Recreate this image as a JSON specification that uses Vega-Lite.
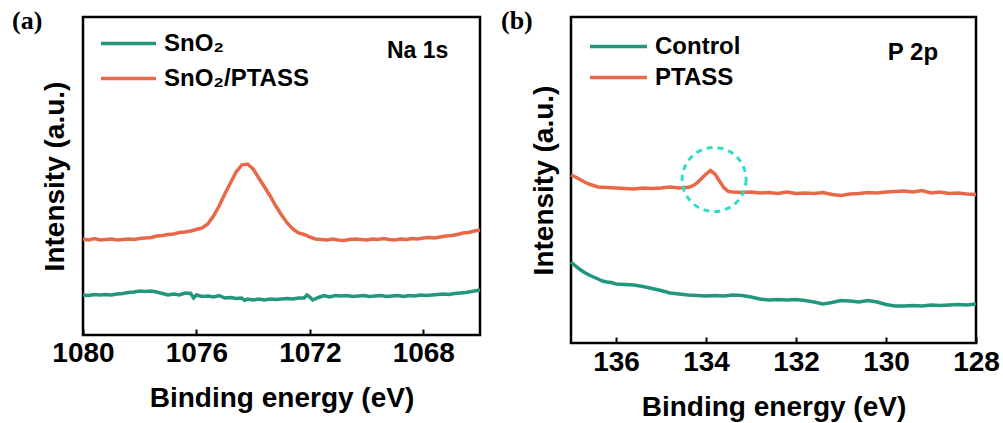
{
  "$schema": "https://vega.github.io/schema/vega-lite/v6.json",
  "background": "white",
  "padding": {"left": 10, "top": 6, "right": 5, "bottom": 5},
  "bounds": "flush",
  "spacing": 91,
  "config": {
    "view": {"stroke": "black", "strokeWidth": 2.5},
    "font": "Liberation Sans",
    "axis": {"labelColor": "black", "titleColor": "black", "tickColor": "black", "domain": false, "grid": false,
             "labelFont": "Liberation Sans", "titleFont": "Liberation Sans", "labelFontWeight": "bold", "titleFontWeight": "bold"},
    "legend": {"labelColor": "black", "labelFont": "Liberation Sans"}
  },
  "resolve": {"scale": {"color": "independent", "x": "independent", "y": "independent"}, "legend": {"color": "independent"}},
  "datasets": {
    "a": [
      {"sample":"SnO₂/PTASS","energy":1080.0,"intensity":96},
      {"sample":"SnO₂/PTASS","energy":1079.8,"intensity":95},
      {"sample":"SnO₂/PTASS","energy":1079.6,"intensity":96.5},
      {"sample":"SnO₂/PTASS","energy":1079.4,"intensity":95},
      {"sample":"SnO₂/PTASS","energy":1079.2,"intensity":95.5},
      {"sample":"SnO₂/PTASS","energy":1079.0,"intensity":96},
      {"sample":"SnO₂/PTASS","energy":1078.8,"intensity":95},
      {"sample":"SnO₂/PTASS","energy":1078.6,"intensity":95.5},
      {"sample":"SnO₂/PTASS","energy":1078.4,"intensity":96},
      {"sample":"SnO₂/PTASS","energy":1078.2,"intensity":95.5},
      {"sample":"SnO₂/PTASS","energy":1078.0,"intensity":96.5},
      {"sample":"SnO₂/PTASS","energy":1077.8,"intensity":97},
      {"sample":"SnO₂/PTASS","energy":1077.6,"intensity":97.5},
      {"sample":"SnO₂/PTASS","energy":1077.4,"intensity":99},
      {"sample":"SnO₂/PTASS","energy":1077.2,"intensity":99.5},
      {"sample":"SnO₂/PTASS","energy":1077.0,"intensity":100.5},
      {"sample":"SnO₂/PTASS","energy":1076.8,"intensity":101},
      {"sample":"SnO₂/PTASS","energy":1076.6,"intensity":102.5},
      {"sample":"SnO₂/PTASS","energy":1076.4,"intensity":103},
      {"sample":"SnO₂/PTASS","energy":1076.2,"intensity":104},
      {"sample":"SnO₂/PTASS","energy":1076.0,"intensity":105.5},
      {"sample":"SnO₂/PTASS","energy":1075.8,"intensity":107},
      {"sample":"SnO₂/PTASS","energy":1075.6,"intensity":111},
      {"sample":"SnO₂/PTASS","energy":1075.4,"intensity":119},
      {"sample":"SnO₂/PTASS","energy":1075.2,"intensity":129},
      {"sample":"SnO₂/PTASS","energy":1075.0,"intensity":141},
      {"sample":"SnO₂/PTASS","energy":1074.8,"intensity":152},
      {"sample":"SnO₂/PTASS","energy":1074.6,"intensity":163},
      {"sample":"SnO₂/PTASS","energy":1074.4,"intensity":170},
      {"sample":"SnO₂/PTASS","energy":1074.2,"intensity":171},
      {"sample":"SnO₂/PTASS","energy":1074.0,"intensity":166},
      {"sample":"SnO₂/PTASS","energy":1073.8,"intensity":157},
      {"sample":"SnO₂/PTASS","energy":1073.6,"intensity":148},
      {"sample":"SnO₂/PTASS","energy":1073.4,"intensity":139},
      {"sample":"SnO₂/PTASS","energy":1073.2,"intensity":129},
      {"sample":"SnO₂/PTASS","energy":1073.0,"intensity":120},
      {"sample":"SnO₂/PTASS","energy":1072.8,"intensity":112},
      {"sample":"SnO₂/PTASS","energy":1072.6,"intensity":106},
      {"sample":"SnO₂/PTASS","energy":1072.4,"intensity":102},
      {"sample":"SnO₂/PTASS","energy":1072.2,"intensity":100.5},
      {"sample":"SnO₂/PTASS","energy":1072.0,"intensity":98},
      {"sample":"SnO₂/PTASS","energy":1071.8,"intensity":96},
      {"sample":"SnO₂/PTASS","energy":1071.6,"intensity":95.5},
      {"sample":"SnO₂/PTASS","energy":1071.4,"intensity":95},
      {"sample":"SnO₂/PTASS","energy":1071.2,"intensity":96},
      {"sample":"SnO₂/PTASS","energy":1071.0,"intensity":95},
      {"sample":"SnO₂/PTASS","energy":1070.8,"intensity":94.5},
      {"sample":"SnO₂/PTASS","energy":1070.6,"intensity":95.5},
      {"sample":"SnO₂/PTASS","energy":1070.4,"intensity":96},
      {"sample":"SnO₂/PTASS","energy":1070.2,"intensity":95.5},
      {"sample":"SnO₂/PTASS","energy":1070.0,"intensity":95},
      {"sample":"SnO₂/PTASS","energy":1069.8,"intensity":96},
      {"sample":"SnO₂/PTASS","energy":1069.6,"intensity":95.5},
      {"sample":"SnO₂/PTASS","energy":1069.4,"intensity":96.5},
      {"sample":"SnO₂/PTASS","energy":1069.2,"intensity":95.5},
      {"sample":"SnO₂/PTASS","energy":1069.0,"intensity":95},
      {"sample":"SnO₂/PTASS","energy":1068.8,"intensity":96},
      {"sample":"SnO₂/PTASS","energy":1068.6,"intensity":95.5},
      {"sample":"SnO₂/PTASS","energy":1068.4,"intensity":96.5},
      {"sample":"SnO₂/PTASS","energy":1068.2,"intensity":96},
      {"sample":"SnO₂/PTASS","energy":1068.0,"intensity":97},
      {"sample":"SnO₂/PTASS","energy":1067.8,"intensity":97.5},
      {"sample":"SnO₂/PTASS","energy":1067.6,"intensity":97},
      {"sample":"SnO₂/PTASS","energy":1067.4,"intensity":98},
      {"sample":"SnO₂/PTASS","energy":1067.2,"intensity":99},
      {"sample":"SnO₂/PTASS","energy":1067.0,"intensity":99.5},
      {"sample":"SnO₂/PTASS","energy":1066.8,"intensity":100.5},
      {"sample":"SnO₂/PTASS","energy":1066.6,"intensity":102},
      {"sample":"SnO₂/PTASS","energy":1066.4,"intensity":102.5},
      {"sample":"SnO₂/PTASS","energy":1066.2,"intensity":104},
      {"sample":"SnO₂/PTASS","energy":1066.0,"intensity":105},
      {"sample":"SnO₂","energy":1080.0,"intensity":40},
      {"sample":"SnO₂","energy":1079.8,"intensity":39.5},
      {"sample":"SnO₂","energy":1079.6,"intensity":40.5},
      {"sample":"SnO₂","energy":1079.4,"intensity":40},
      {"sample":"SnO₂","energy":1079.2,"intensity":40.5},
      {"sample":"SnO₂","energy":1079.0,"intensity":40},
      {"sample":"SnO₂","energy":1078.8,"intensity":41},
      {"sample":"SnO₂","energy":1078.6,"intensity":41.5},
      {"sample":"SnO₂","energy":1078.4,"intensity":42.5},
      {"sample":"SnO₂","energy":1078.2,"intensity":43},
      {"sample":"SnO₂","energy":1078.0,"intensity":44},
      {"sample":"SnO₂","energy":1077.8,"intensity":43.5},
      {"sample":"SnO₂","energy":1077.6,"intensity":44},
      {"sample":"SnO₂","energy":1077.4,"intensity":43},
      {"sample":"SnO₂","energy":1077.2,"intensity":41.5},
      {"sample":"SnO₂","energy":1077.0,"intensity":40},
      {"sample":"SnO₂","energy":1076.8,"intensity":41},
      {"sample":"SnO₂","energy":1076.6,"intensity":40},
      {"sample":"SnO₂","energy":1076.4,"intensity":42},
      {"sample":"SnO₂","energy":1076.2,"intensity":41.5},
      {"sample":"SnO₂","energy":1076.1,"intensity":37},
      {"sample":"SnO₂","energy":1076.0,"intensity":40},
      {"sample":"SnO₂","energy":1075.8,"intensity":38.5},
      {"sample":"SnO₂","energy":1075.6,"intensity":39},
      {"sample":"SnO₂","energy":1075.4,"intensity":38},
      {"sample":"SnO₂","energy":1075.2,"intensity":39.5},
      {"sample":"SnO₂","energy":1075.0,"intensity":37},
      {"sample":"SnO₂","energy":1074.8,"intensity":37.5},
      {"sample":"SnO₂","energy":1074.6,"intensity":36.5},
      {"sample":"SnO₂","energy":1074.4,"intensity":37},
      {"sample":"SnO₂","energy":1074.3,"intensity":34.5},
      {"sample":"SnO₂","energy":1074.2,"intensity":36},
      {"sample":"SnO₂","energy":1074.0,"intensity":35},
      {"sample":"SnO₂","energy":1073.8,"intensity":36},
      {"sample":"SnO₂","energy":1073.6,"intensity":35},
      {"sample":"SnO₂","energy":1073.4,"intensity":36},
      {"sample":"SnO₂","energy":1073.2,"intensity":35.5},
      {"sample":"SnO₂","energy":1073.0,"intensity":36},
      {"sample":"SnO₂","energy":1072.8,"intensity":36.5},
      {"sample":"SnO₂","energy":1072.6,"intensity":36},
      {"sample":"SnO₂","energy":1072.4,"intensity":37},
      {"sample":"SnO₂","energy":1072.2,"intensity":37},
      {"sample":"SnO₂","energy":1072.1,"intensity":40},
      {"sample":"SnO₂","energy":1072.0,"intensity":38},
      {"sample":"SnO₂","energy":1071.9,"intensity":35},
      {"sample":"SnO₂","energy":1071.7,"intensity":37.5},
      {"sample":"SnO₂","energy":1071.5,"intensity":39.5},
      {"sample":"SnO₂","energy":1071.3,"intensity":38},
      {"sample":"SnO₂","energy":1071.1,"intensity":39.5},
      {"sample":"SnO₂","energy":1070.9,"intensity":39},
      {"sample":"SnO₂","energy":1070.7,"intensity":39.5},
      {"sample":"SnO₂","energy":1070.5,"intensity":38.5},
      {"sample":"SnO₂","energy":1070.3,"intensity":39},
      {"sample":"SnO₂","energy":1070.1,"intensity":39.5},
      {"sample":"SnO₂","energy":1069.9,"intensity":38.5},
      {"sample":"SnO₂","energy":1069.7,"intensity":39},
      {"sample":"SnO₂","energy":1069.5,"intensity":39.5},
      {"sample":"SnO₂","energy":1069.3,"intensity":38.5},
      {"sample":"SnO₂","energy":1069.1,"intensity":39},
      {"sample":"SnO₂","energy":1068.9,"intensity":39.5},
      {"sample":"SnO₂","energy":1068.7,"intensity":38.5},
      {"sample":"SnO₂","energy":1068.5,"intensity":39.5},
      {"sample":"SnO₂","energy":1068.3,"intensity":39},
      {"sample":"SnO₂","energy":1068.1,"intensity":40},
      {"sample":"SnO₂","energy":1067.9,"intensity":39.5},
      {"sample":"SnO₂","energy":1067.7,"intensity":40},
      {"sample":"SnO₂","energy":1067.5,"intensity":40.5},
      {"sample":"SnO₂","energy":1067.3,"intensity":41},
      {"sample":"SnO₂","energy":1067.1,"intensity":40.5},
      {"sample":"SnO₂","energy":1066.9,"intensity":41.5},
      {"sample":"SnO₂","energy":1066.7,"intensity":42},
      {"sample":"SnO₂","energy":1066.5,"intensity":42.5},
      {"sample":"SnO₂","energy":1066.3,"intensity":43.5},
      {"sample":"SnO₂","energy":1066.0,"intensity":45}
    ],
    "b": [
      {"sample":"PTASS","energy":137.0,"intensity":168},
      {"sample":"PTASS","energy":136.9,"intensity":166},
      {"sample":"PTASS","energy":136.8,"intensity":163.5},
      {"sample":"PTASS","energy":136.7,"intensity":161},
      {"sample":"PTASS","energy":136.6,"intensity":159},
      {"sample":"PTASS","energy":136.5,"intensity":157.5},
      {"sample":"PTASS","energy":136.4,"intensity":156},
      {"sample":"PTASS","energy":136.2,"intensity":155.5},
      {"sample":"PTASS","energy":136.0,"intensity":155},
      {"sample":"PTASS","energy":135.8,"intensity":154.5},
      {"sample":"PTASS","energy":135.6,"intensity":154},
      {"sample":"PTASS","energy":135.4,"intensity":155},
      {"sample":"PTASS","energy":135.2,"intensity":154.5},
      {"sample":"PTASS","energy":135.0,"intensity":155},
      {"sample":"PTASS","energy":134.8,"intensity":156},
      {"sample":"PTASS","energy":134.6,"intensity":155},
      {"sample":"PTASS","energy":134.5,"intensity":155.5},
      {"sample":"PTASS","energy":134.4,"intensity":155.5},
      {"sample":"PTASS","energy":134.3,"intensity":157},
      {"sample":"PTASS","energy":134.2,"intensity":160},
      {"sample":"PTASS","energy":134.1,"intensity":164.5},
      {"sample":"PTASS","energy":134.0,"intensity":169},
      {"sample":"PTASS","energy":133.9,"intensity":172.5},
      {"sample":"PTASS","energy":133.8,"intensity":169},
      {"sample":"PTASS","energy":133.7,"intensity":162},
      {"sample":"PTASS","energy":133.6,"intensity":155},
      {"sample":"PTASS","energy":133.5,"intensity":151.5},
      {"sample":"PTASS","energy":133.4,"intensity":151},
      {"sample":"PTASS","energy":133.2,"intensity":150.5},
      {"sample":"PTASS","energy":133.0,"intensity":151},
      {"sample":"PTASS","energy":132.8,"intensity":150},
      {"sample":"PTASS","energy":132.6,"intensity":150.5},
      {"sample":"PTASS","energy":132.4,"intensity":149.5},
      {"sample":"PTASS","energy":132.2,"intensity":151},
      {"sample":"PTASS","energy":132.0,"intensity":149.5},
      {"sample":"PTASS","energy":131.8,"intensity":150},
      {"sample":"PTASS","energy":131.6,"intensity":149.5},
      {"sample":"PTASS","energy":131.4,"intensity":150.5},
      {"sample":"PTASS","energy":131.2,"intensity":148.5},
      {"sample":"PTASS","energy":131.0,"intensity":147.5},
      {"sample":"PTASS","energy":130.8,"intensity":149},
      {"sample":"PTASS","energy":130.6,"intensity":149.5},
      {"sample":"PTASS","energy":130.4,"intensity":150.5},
      {"sample":"PTASS","energy":130.2,"intensity":150},
      {"sample":"PTASS","energy":130.0,"intensity":151},
      {"sample":"PTASS","energy":129.8,"intensity":151.5},
      {"sample":"PTASS","energy":129.6,"intensity":152},
      {"sample":"PTASS","energy":129.4,"intensity":151},
      {"sample":"PTASS","energy":129.2,"intensity":152.5},
      {"sample":"PTASS","energy":129.0,"intensity":150},
      {"sample":"PTASS","energy":128.8,"intensity":151},
      {"sample":"PTASS","energy":128.6,"intensity":149.5},
      {"sample":"PTASS","energy":128.4,"intensity":150},
      {"sample":"PTASS","energy":128.2,"intensity":149},
      {"sample":"PTASS","energy":128.0,"intensity":148.5},
      {"sample":"Control","energy":137.0,"intensity":81},
      {"sample":"Control","energy":136.9,"intensity":77},
      {"sample":"Control","energy":136.8,"intensity":73.5},
      {"sample":"Control","energy":136.7,"intensity":70.5},
      {"sample":"Control","energy":136.6,"intensity":68},
      {"sample":"Control","energy":136.5,"intensity":66},
      {"sample":"Control","energy":136.4,"intensity":64},
      {"sample":"Control","energy":136.3,"intensity":62},
      {"sample":"Control","energy":136.2,"intensity":61},
      {"sample":"Control","energy":136.1,"intensity":60.5},
      {"sample":"Control","energy":136.0,"intensity":59},
      {"sample":"Control","energy":135.8,"intensity":58.5},
      {"sample":"Control","energy":135.6,"intensity":58},
      {"sample":"Control","energy":135.4,"intensity":56.5},
      {"sample":"Control","energy":135.2,"intensity":54.5},
      {"sample":"Control","energy":135.0,"intensity":52.5},
      {"sample":"Control","energy":134.8,"intensity":50},
      {"sample":"Control","energy":134.6,"intensity":49},
      {"sample":"Control","energy":134.4,"intensity":48},
      {"sample":"Control","energy":134.2,"intensity":47.5},
      {"sample":"Control","energy":134.0,"intensity":47},
      {"sample":"Control","energy":133.8,"intensity":47.5},
      {"sample":"Control","energy":133.6,"intensity":47},
      {"sample":"Control","energy":133.4,"intensity":48},
      {"sample":"Control","energy":133.2,"intensity":47.5},
      {"sample":"Control","energy":133.0,"intensity":46},
      {"sample":"Control","energy":132.8,"intensity":44},
      {"sample":"Control","energy":132.6,"intensity":43},
      {"sample":"Control","energy":132.4,"intensity":43.5},
      {"sample":"Control","energy":132.2,"intensity":43},
      {"sample":"Control","energy":132.0,"intensity":43.5},
      {"sample":"Control","energy":131.8,"intensity":42.5},
      {"sample":"Control","energy":131.6,"intensity":41},
      {"sample":"Control","energy":131.4,"intensity":39},
      {"sample":"Control","energy":131.2,"intensity":40.5},
      {"sample":"Control","energy":131.0,"intensity":42.5},
      {"sample":"Control","energy":130.8,"intensity":42},
      {"sample":"Control","energy":130.6,"intensity":41},
      {"sample":"Control","energy":130.4,"intensity":42.5},
      {"sample":"Control","energy":130.2,"intensity":41},
      {"sample":"Control","energy":130.0,"intensity":38.5},
      {"sample":"Control","energy":129.8,"intensity":37},
      {"sample":"Control","energy":129.6,"intensity":37},
      {"sample":"Control","energy":129.4,"intensity":37.5},
      {"sample":"Control","energy":129.2,"intensity":37},
      {"sample":"Control","energy":129.0,"intensity":38},
      {"sample":"Control","energy":128.8,"intensity":37.5},
      {"sample":"Control","energy":128.6,"intensity":38},
      {"sample":"Control","energy":128.4,"intensity":38.5},
      {"sample":"Control","energy":128.2,"intensity":38},
      {"sample":"Control","energy":128.0,"intensity":39}
    ]
  },
  "hconcat": [
    {
      "width": 397,
      "height": 318,
      "title": {"text": "(a)", "anchor": "start", "frame": "group", "font": "Liberation Serif", "fontSize": 26, "fontWeight": "bold", "color": "black", "dx": -71, "dy": 20, "offset": 3, "baseline": "top"},
      "layer": [
        {
          "data": {"name": "a"},
          "mark": {"type": "line", "strokeWidth": 3.5},
          "encoding": {
            "x": {"field": "energy", "type": "quantitative", "scale": {"domain": [1080, 1066], "nice": false, "zero": false},
                  "axis": {"values": [1080, 1076, 1072, 1068], "format": "d", "title": "Binding energy (eV)", "tickSize": -6, "tickWidth": 2, "labelFlush": false, "labelOverlap": false, "labelFontSize": 28, "labelPadding": 10, "titleFontSize": 28, "titlePadding": 17}},
            "y": {"field": "intensity", "type": "quantitative", "scale": {"domain": [0, 318], "nice": false},
                  "axis": {"title": "Intensity (a.u.)", "labels": false, "ticks": false, "titleFontSize": 28, "titlePadding": 14}},
            "color": {"field": "sample", "type": "nominal", "scale": {"domain": ["SnO₂", "SnO₂/PTASS"], "range": ["#23967F", "#E8694A"]},
                      "legend": {"title": null, "orient": "none", "legendX": 16, "legendY": 9, "symbolType": "stroke", "symbolSize": 3025, "symbolStrokeWidth": 3.5, "labelFontSize": 24, "labelFontWeight": "bold", "labelOffset": 6, "clipHeight": 35, "rowPadding": 0, "padding": 0}}
          }
        },
        {
          "data": {"values": [{"label": "Na 1s", "energy": 1069.28, "intensity": 277}]},
          "mark": {"type": "text", "align": "left", "baseline": "alphabetic", "fontSize": 23, "fontWeight": "bold", "color": "black"},
          "encoding": {
            "x": {"field": "energy", "type": "quantitative"},
            "y": {"field": "intensity", "type": "quantitative"},
            "text": {"field": "label"}
          }
        }
      ]
    },
    {
      "width": 405,
      "height": 326,
      "title": {"text": "(b)", "anchor": "start", "frame": "group", "font": "Liberation Serif", "fontSize": 26, "fontWeight": "bold", "color": "black", "dx": -70, "dy": 20, "offset": 3, "baseline": "top"},
      "layer": [
        {
          "data": {"name": "b"},
          "mark": {"type": "line", "strokeWidth": 3.5},
          "encoding": {
            "x": {"field": "energy", "type": "quantitative", "scale": {"domain": [137, 128], "nice": false, "zero": false},
                  "axis": {"values": [136, 134, 132, 130, 128], "format": "d", "title": "Binding energy (eV)", "tickSize": -6, "tickWidth": 2, "labelFlush": false, "labelOverlap": false, "labelFontSize": 28, "labelPadding": 11, "titleFontSize": 28, "titlePadding": 17}},
            "y": {"field": "intensity", "type": "quantitative", "scale": {"domain": [0, 326], "nice": false},
                  "axis": {"title": "Intensity (a.u.)", "labels": false, "ticks": false, "titleFontSize": 28, "titlePadding": 13}},
            "color": {"field": "sample", "type": "nominal", "scale": {"domain": ["Control", "PTASS"], "range": ["#23967F", "#E8694A"]},
                      "legend": {"title": null, "orient": "none", "legendX": 17, "legendY": 14, "symbolType": "stroke", "symbolSize": 3249, "symbolStrokeWidth": 3.5, "labelFontSize": 24, "labelFontWeight": "bold", "labelOffset": 6, "clipHeight": 31, "rowPadding": 0, "padding": 0}}
          }
        },
        {
          "data": {"values": [{"energy": 133.82, "intensity": 163.5}]},
          "mark": {"type": "point", "shape": "circle", "size": 4096, "filled": false, "stroke": "#2EDDC6", "strokeWidth": 3, "strokeDash": [6, 5], "opacity": 1},
          "encoding": {
            "x": {"field": "energy", "type": "quantitative"},
            "y": {"field": "intensity", "type": "quantitative"}
          }
        },
        {
          "data": {"values": [{"label": "P 2p", "energy": 129.96, "intensity": 283}]},
          "mark": {"type": "text", "align": "left", "baseline": "alphabetic", "fontSize": 24, "fontWeight": "bold", "color": "black"},
          "encoding": {
            "x": {"field": "energy", "type": "quantitative"},
            "y": {"field": "intensity", "type": "quantitative"},
            "text": {"field": "label"}
          }
        }
      ]
    }
  ]
}
